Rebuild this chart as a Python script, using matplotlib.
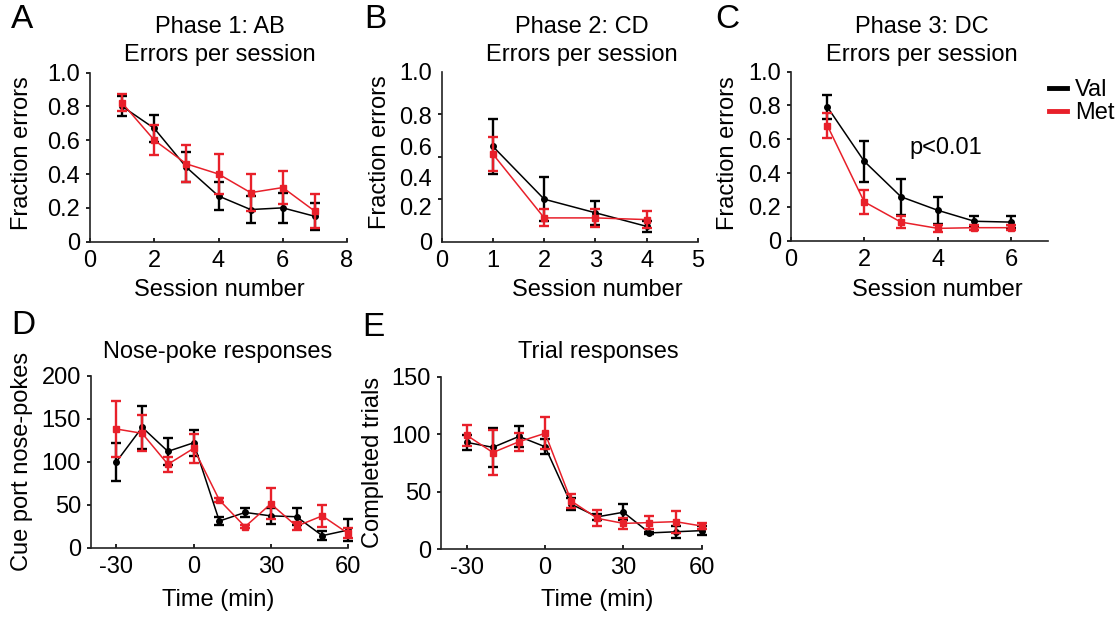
import matplotlib
matplotlib.use("Agg")
import matplotlib.pyplot as plt
from matplotlib.lines import Line2D

plt.rcParams['font.family'] = ['Liberation Sans', 'DejaVu Sans']
plt.rcParams['font.size'] = 17
plt.rcParams['axes.unicode_minus'] = False

RED = '#e8202a'
W, H = 1120, 618

# ---- Panel A: Phase 1 AB ----
a_sess = [1, 2, 3, 4, 5, 6, 7]
a_val = [0.80, 0.67, 0.44, 0.27, 0.19, 0.20, 0.15]
a_val_err = [0.06, 0.08, 0.09, 0.08, 0.08, 0.09, 0.08]
a_met = [0.82, 0.60, 0.46, 0.40, 0.29, 0.32, 0.18]
a_met_err = [0.05, 0.09, 0.11, 0.12, 0.11, 0.10, 0.10]

# ---- Panel B: Phase 2 CD ----
b_sess = [1, 2, 3, 4]
b_val = [0.56, 0.25, 0.17, 0.09]
b_val_err = [0.16, 0.13, 0.07, 0.03]
b_met = [0.515, 0.14, 0.14, 0.13]
b_met_err = [0.10, 0.05, 0.055, 0.05]
# tick labels in this panel sit off the tick marks in the original figure
b_label_pos = [0.0, 0.205, 0.38, 0.56, 0.745, 1.0]
b_labels = ['0', '0.2', '0.4', '0.6', '0.8', '1.0']

# ---- Panel C: Phase 3 DC ----
c_sess = [1, 2, 3, 4, 5, 6]
c_val = [0.79, 0.47, 0.26, 0.18, 0.115, 0.11]
c_val_err = [0.07, 0.12, 0.105, 0.08, 0.03, 0.035]
c_met = [0.68, 0.23, 0.11, 0.073, 0.077, 0.077]
c_met_err = [0.075, 0.07, 0.035, 0.02, 0.015, 0.015]

# ---- Panels D, E: time course ----
t_min = [-30, -20, -10, 0, 10, 20, 30, 40, 50, 60]
d_val = [100, 140, 112, 122, 31, 41, 37, 36, 14, 20.5]
d_val_err = [22, 25, 16, 15, 5, 5, 9, 10, 5, 13]
d_met = [138, 133, 97, 115.5, 55.4, 24.4, 51, 25, 37, 16.7]
d_met_err = [33, 21, 9, 17, 2, 2, 18, 4.5, 12.5, 6]

e_val = [92.8, 88.5, 98, 89, 39, 28, 32, 14, 15, 16]
e_val_err = [6.5, 17, 9, 6.5, 5, 2.5, 7, 1, 5, 4]
e_met = [99, 84, 93.4, 100.7, 41.8, 26.7, 22.3, 23, 23.8, 20]
e_met_err = [9, 20, 8, 14, 5.8, 7, 5, 6, 9.5, 3]


def px_axes(left, top, right, bottom):
    return fig.add_axes([left / W, 1 - bottom / H, (right - left) / W, (bottom - top) / H])


def ftext(x, y, s, **kw):
    fig.text(x / W, 1 - y / H, s, ha=kw.pop('ha', 'center'), va=kw.pop('va', 'center'), **kw)


def style(ax):
    for side in ['top', 'right']:
        ax.spines[side].set_visible(False)
    for side in ['left', 'bottom']:
        ax.spines[side].set_linewidth(1.2)
        ax.spines[side].set_color('#222222')
    ax.tick_params(axis='y', direction='out', length=3, width=1.2, pad=4)
    ax.tick_params(axis='x', direction='in', length=3, width=1.2, pad=6)


def series(ax, x, val, verr, met, merr):
    ax.errorbar(x, val, yerr=verr, color='black', lw=1.1, elinewidth=1.7,
                capsize=3.5, capthick=1.7, marker='o', ms=4, clip_on=False, zorder=3)
    ax.errorbar(x, met, yerr=merr, color=RED, lw=1.1, elinewidth=1.7,
                capsize=3.5, capthick=1.7, marker='s', ms=4.5, clip_on=False, zorder=4)


fig = plt.figure(figsize=(11.2, 6.18), dpi=100)

frac_ticks = [0, 0.2, 0.4, 0.6, 0.8, 1.0]
frac_labels = ['0', '0.2', '0.4', '0.6', '0.8', '1.0']

# A
ax = px_axes(90, 72.5, 347, 241.7)
series(ax, a_sess, a_val, a_val_err, a_met, a_met_err)
ax.set_xlim(0, 8)
ax.set_ylim(0, 1)
ax.set_xticks([0, 2, 4, 6, 8])
ax.set_yticks(frac_ticks, frac_labels)
style(ax)

# B
ax = px_axes(441.7, 71.7, 698, 241.7)
series(ax, b_sess, b_val, b_val_err, b_met, b_met_err)
ax.set_xlim(0, 5)
ax.set_ylim(0, 1)
ax.set_xticks([0, 1, 2, 3, 4, 5])
ax.set_yticks(b_label_pos, b_labels)
ax.set_yticks([0, 0.25, 0.5, 0.75, 1.0], minor=True)
style(ax)
ax.tick_params(axis='y', which='major', length=0, pad=7)
ax.tick_params(axis='y', which='minor', direction='out', length=3, width=1.2)

# C
ax = px_axes(790.7, 71.7, 1048, 240.7)
series(ax, c_sess, c_val, c_val_err, c_met, c_met_err)
ax.set_xlim(0, 7)
ax.set_ylim(0, 1)
ax.set_xticks([0, 2, 4, 6])
ax.set_yticks(frac_ticks, frac_labels)
style(ax)
handles = [Line2D([], [], color='black', lw=3.5), Line2D([], [], color=RED, lw=3.5)]
fig.legend(handles, ['Val', 'Met'], loc='upper left',
           bbox_to_anchor=(1037 / W, 1 - 67 / H), frameon=False, borderpad=0,
           handlelength=0.75, handletextpad=0.35, labelspacing=0.05, fontsize=17)

# D
ax = px_axes(90.7, 375.7, 348, 547.7)
series(ax, t_min, d_val, d_val_err, d_met, d_met_err)
ax.set_xlim(-40, 60)
ax.set_ylim(0, 200)
ax.set_xticks([-30, 0, 30, 60])
ax.set_yticks([0, 50, 100, 150, 200])
style(ax)

# E
ax = px_axes(440.7, 376.7, 701.7, 549)
series(ax, t_min, e_val, e_val_err, e_met, e_met_err)
ax.set_xlim(-40, 60)
ax.set_ylim(0, 150)
ax.set_xticks([-30, 0, 30, 60])
ax.set_yticks([0, 50, 100, 150])
style(ax)

# titles, labels, panel letters
ftext(220, 27, 'Phase 1: AB')
ftext(220, 55, 'Errors per session')
ftext(582, 27, 'Phase 2: CD')
ftext(582, 55, 'Errors per session')
ftext(922, 27, 'Phase 3: DC')
ftext(922, 55, 'Errors per session')
ftext(218, 352, 'Nose-poke responses')
ftext(598, 352, 'Trial responses')
ftext(946, 148, 'p<0.01')

ftext(219, 290, 'Session number')
ftext(597, 290, 'Session number')
ftext(937, 290, 'Session number')
ftext(218, 600, 'Time (min)')
ftext(597, 600, 'Time (min)')

ftext(22, 153, 'Fraction errors', rotation=90)
ftext(380, 152, 'Fraction errors', rotation=90)
ftext(728, 153, 'Fraction errors', rotation=90)
ftext(22, 461, 'Cue port nose-pokes', rotation=90)
ftext(373, 462, 'Completed trials', rotation=90)

for letter, x, y in [('A', 22, 19), ('B', 375, 19), ('C', 727, 19), ('D', 23, 325), ('E', 373, 327)]:
    ftext(x, y, letter, fontsize=24)

fig.savefig('out.png', dpi=100)
